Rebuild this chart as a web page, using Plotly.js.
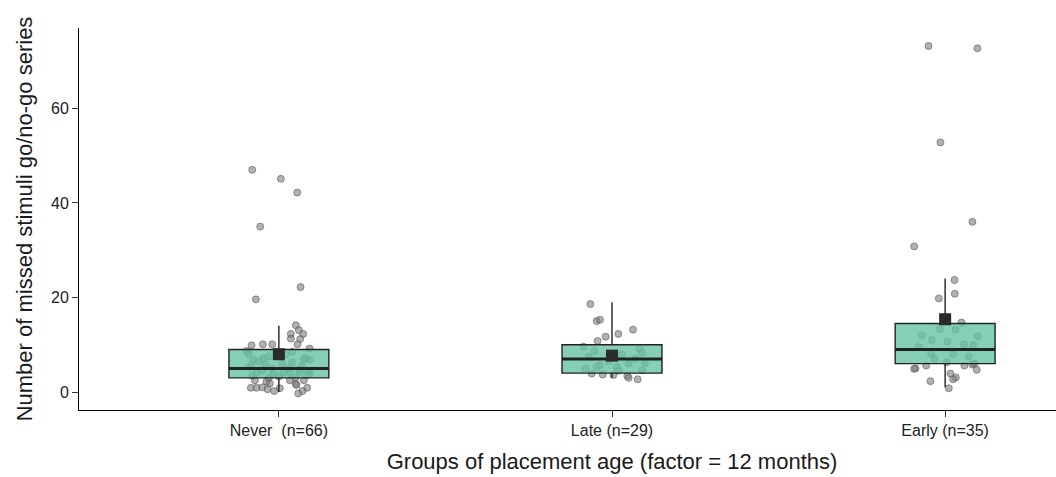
<!DOCTYPE html>
<html>
<head>
<meta charset="utf-8">
<script src="https://cdn.plot.ly/plotly-3.0.1.min.js"></script>
<style>
html, body { margin: 0; padding: 0; overflow: hidden; background: #fff; }
#chart { width: 1146px; height: 477px; }
</style>
</head>
<body>
<div id="chart"></div>
<script>
// ---- Data ----
const categories = ["Never\u00a0\u00a0(n=66)", "Late (n=29)", "Early (n=35)"];

const neverValues = [47.0, 45.1, 42.2, 35.0, 22.2, 19.6,
  14.1, 13.1, 12.3, 12.3, 11.3, 11.2, 10.1, 9.9, 10.1, 10.1, 9.2, 8.7,
  6.8, 7.1, 6.9, 6.9, 5.7, 4.1, 4.1, 4.2, 4.1, 3.9, 3.9,
  2.5, 2.2, 1.8, 2.5, 1.7, 2.5, 0.9, 0.9, 1.0, 0.6, 0.2, 0.8, 0.9, 0.2, -0.3, 1.5,
  8.0, 7.9, 7.5, 7.2, 6.5, 6.2, 6.0, 5.8, 5.5, 5.2, 5.0, 5.0, 4.8, 4.6, 4.5, 3.5, 3.3, 3.1, 3.0, 8.5, 3.6];
const neverJitter = [-0.08, 0.006, 0.055, -0.056, 0.065, -0.069,
  0.051, 0.06, 0.036, 0.073, 0.036, 0.064, 0.056, -0.082, -0.048, -0.02, 0.092, -0.097,
  -0.077, -0.047, 0.075, 0.093, -0.082, 0.013, 0.033, 0.063, -0.067, -0.017, 0.093,
  -0.072, -0.037, -0.027, 0.033, 0.051, 0.075, -0.084, -0.067, -0.05, -0.034, -0.014, 0.003, 0.085, 0.071, 0.058, 0.053,
  -0.09, 0.02, -0.03, 0.08, -0.06, 0.04, 0.01, -0.04, 0.07, -0.09, 0.03, -0.02, 0.06, -0.05, 0.09, -0.08, 0.0, 0.05, -0.03, 0.04, 0.085];

const lateValues = [18.6, 15.0, 15.3, 13.2, 12.3, 11.7, 10.8, 9.6, 9.2, 8.7,
  5.7, 5.3, 6.1, 7.1, 5.3, 3.9, 3.7, 3.6, 3.4, 3.0, 2.7, 4.6,
  8.0, 7.5, 6.5, 6.0, 5.0, 4.5, 8.3];
const lateJitter = [-0.065, -0.046, -0.036, 0.063, 0.019, -0.019, -0.043, -0.086, 0.082, -0.053,
  -0.036, -0.046, 0.099, 0.069, 0.014, -0.061, -0.028, 0.004, 0.046, 0.05, 0.077, 0.09,
  0.03, -0.07, -0.01, 0.05, -0.08, 0.02, 0.09];

const earlyValues = [73.2, 72.7, 52.8, 36.0, 30.8, 23.7, 20.8, 19.8, 14.7, 13.3, 13.2, 11.8,
  10.7, 10.1, 10.0, 8.0, 8.0, 7.1, 6.3, 5.0, 4.9, 5.6, 5.6, 5.8, 6.0, 4.7, 3.9, 3.1, 2.7, 2.3, 0.8,
  12.0, 9.5, 7.5, 11.0];
const earlyJitter = [-0.05, 0.097, -0.014, 0.082, -0.093, 0.028, 0.029, -0.019, 0.049, -0.016, 0.031, 0.097,
  0.007, 0.056, 0.084, -0.042, 0.024, -0.032, 0.005, -0.089, -0.093, -0.057, 0.058, 0.082, 0.088, 0.095, 0.016, 0.032, 0.024, -0.044, 0.011,
  -0.07, -0.08, 0.07, -0.04];

const q1 = [3, 4, 6];
const medians = [5, 7, 9];
const q3 = [9, 10, 14.5];
const lowerWhisker = [0, 3, 1];
const upperWhisker = [14, 19, 24];
const means = [8.0, 7.7, 15.4];

// ---- Build traces ----
const groups = [
  { values: neverValues, jitter: neverJitter },
  { values: lateValues, jitter: lateJitter },
  { values: earlyValues, jitter: earlyJitter }
];
const catIdx = categories.map((_, i) => i);
const boxWidth = 0.3;

const px = [], py = [];
groups.forEach((g, i) => {
  g.values.forEach((v, k) => { px.push(i + g.jitter[k]); py.push(v); });
});

const pointsTrace = {
  type: 'scatter', mode: 'markers', x: px, y: py,
  marker: { size: 7, color: 'rgba(125,125,125,0.6)', line: { color: 'rgba(80,80,80,0.55)', width: 1 } },
  hoverinfo: 'y', showlegend: false, xaxis: 'x', yaxis: 'y'
};

const boxTrace = {
  type: 'box', x: catIdx, q1: q1, median: medians, q3: q3,
  lowerfence: lowerWhisker, upperfence: upperWhisker,
  width: boxWidth, whiskerwidth: 0, boxpoints: false,
  fillcolor: 'rgba(102,194,165,0.8)',
  line: { color: '#222222', width: 1.4 },
  showlegend: false, xaxis: 'x2', yaxis: 'y2', hoverinfo: 'skip'
};

const mx = [], my = [];
catIdx.forEach(i => { mx.push(i - boxWidth / 2, i + boxWidth / 2, null); my.push(medians[i], medians[i], null); });
const medianTrace = {
  type: 'scatter', mode: 'lines', x: mx, y: my,
  line: { color: '#222222', width: 3 }, showlegend: false, hoverinfo: 'skip',
  xaxis: 'x2', yaxis: 'y2'
};

const meanTrace = {
  type: 'scatter', mode: 'markers', x: catIdx, y: means,
  marker: { symbol: 'square', size: 12, color: '#2b2b2b' },
  showlegend: false, xaxis: 'x2', yaxis: 'y2'
};

const fontFam = '"Liberation Sans", Arial, Helvetica, sans-serif';
const xRange = [-0.6, 2.6];
const yRange = [-3.8, 77];

const layout = {
  width: 1146, height: 477,
  margin: { l: 79, r: 1, t: 28, b: 67 },
  paper_bgcolor: '#ffffff', plot_bgcolor: '#ffffff',
  font: { family: fontFam, color: '#000' },
  showlegend: false,
  xaxis: {
    range: xRange, tickvals: catIdx, ticktext: categories,
    showline: true, linecolor: '#000', linewidth: 1,
    ticks: 'outside', ticklen: 6, tickcolor: '#333', tickwidth: 1,
    showgrid: false, zeroline: false,
    tickfont: { size: 16, color: '#222' },
    title: { text: 'Groups of placement age (factor = 12 months)', font: { size: 22, color: '#1a1a1a' }, standoff: 15 }
  },
  yaxis: {
    range: yRange, tickvals: [0, 20, 40, 60],
    showline: true, linecolor: '#000', linewidth: 1,
    ticks: 'outside', ticklen: 6, tickcolor: '#333', tickwidth: 1,
    showgrid: false, zeroline: false,
    tickfont: { size: 16, color: '#222' },
    title: { text: 'Number of missed stimuli go/no-go series', font: { size: 22, color: '#1a1a1a' }, standoff: 12 }
  },
  xaxis2: { overlaying: 'x', matches: 'x', visible: false, range: xRange },
  yaxis2: { overlaying: 'y', matches: 'y', visible: false, range: yRange }
};

Plotly.newPlot('chart', [pointsTrace, boxTrace, medianTrace, meanTrace], layout, { displayModeBar: false, staticPlot: true });
</script>
</body>
</html>
